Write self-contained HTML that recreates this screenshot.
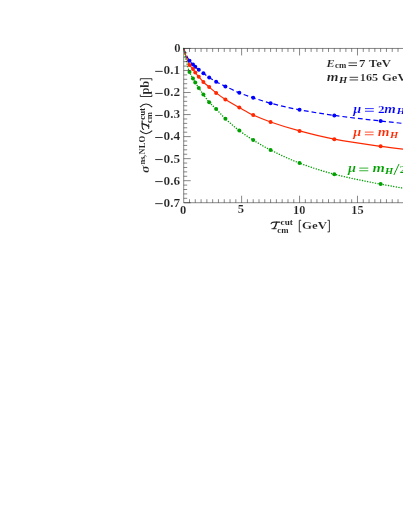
<!DOCTYPE html>
<html><head><meta charset="utf-8"><title>plot</title>
<style>
html,body{margin:0;padding:0;background:#fff;}
body{width:403px;height:521px;overflow:hidden;font-family:"Liberation Serif",serif;}
svg{display:block;position:absolute;left:0;top:0;will-change:transform;opacity:0.999;}
svg text{font-family:"Liberation Serif",serif;font-weight:bold;fill:#222;stroke:#fff;}
</style></head><body>
<svg width="403" height="521" viewBox="0 0 403 521">
<rect width="403" height="521" fill="#fff"/>
<g fill="none" stroke-width="1.2">
<path d="M183.70 48.45 C185.63 53.60 187.56 58.08 189.49 60.80 C190.65 62.43 191.81 63.43 192.97 64.60 C193.74 65.38 194.51 66.11 195.28 66.80 C196.44 67.83 197.60 68.78 198.76 69.70 C200.31 70.93 201.85 72.06 203.39 73.20 C205.33 74.63 207.26 76.11 209.19 77.40 C211.50 78.95 213.82 80.40 216.14 81.70 C219.23 83.43 222.32 84.90 225.41 86.40 C230.04 88.64 234.67 90.93 239.31 92.80 C243.94 94.67 248.58 96.25 253.21 97.80 C259.00 99.74 264.79 101.66 270.59 103.20 C280.24 105.77 289.90 107.97 299.55 109.80 C311.13 112.00 322.72 113.79 334.31 115.40 C349.75 117.55 365.20 119.27 380.64 121.00 C399.95 123.16 419.26 125.00 438.57 127.00" stroke="#0000ff" stroke-dasharray="4.8 3"/>
<path d="M183.70 48.45 C185.63 55.35 187.56 61.94 189.49 65.00 C190.65 66.84 191.81 67.47 192.97 69.00 C193.74 70.02 194.51 71.44 195.28 72.50 C196.44 74.09 197.60 75.43 198.76 76.80 C200.31 78.62 201.85 80.47 203.39 82.00 C205.33 83.91 207.26 85.44 209.19 87.10 C211.50 89.09 213.82 91.10 216.14 92.90 C219.23 95.30 222.32 97.61 225.41 99.60 C230.04 102.59 234.67 105.02 239.31 107.60 C243.94 110.18 248.58 112.97 253.21 115.10 C259.00 117.76 264.79 119.97 270.59 122.00 C280.24 125.38 289.90 128.30 299.55 130.90 C311.13 134.03 322.72 137.01 334.31 139.20 C349.75 142.11 365.20 144.17 380.64 146.30 C399.95 148.96 419.26 151.10 438.57 153.50" stroke="#ff2800"/>
<path d="M183.70 48.45 C185.63 58.26 187.56 67.25 189.49 72.00 C190.65 74.85 191.81 76.34 192.97 78.40 C193.74 79.77 194.51 81.12 195.28 82.40 C196.44 84.32 197.60 86.16 198.76 87.90 C200.31 90.22 201.85 92.37 203.39 94.50 C205.33 97.16 207.26 100.01 209.19 102.20 C211.50 104.82 213.82 106.66 216.14 109.00 C219.23 112.12 222.32 115.77 225.41 118.70 C230.04 123.09 234.67 127.08 239.31 130.60 C243.94 134.12 248.58 137.21 253.21 140.10 C259.00 143.71 264.79 147.05 270.59 150.00 C280.24 154.92 289.90 159.47 299.55 163.10 C311.13 167.46 322.72 171.21 334.31 174.20 C349.75 178.19 365.20 181.15 380.64 184.10 C399.95 187.78 419.26 190.70 438.57 194.00" stroke="#00a000" stroke-width="1.45" stroke-linecap="round" stroke-dasharray="0.01 2.64"/>
</g>
<circle cx="189.49" cy="60.80" r="2" fill="#0000ff"/><circle cx="192.97" cy="64.60" r="2" fill="#0000ff"/><circle cx="195.28" cy="66.80" r="2" fill="#0000ff"/><circle cx="198.76" cy="69.70" r="2" fill="#0000ff"/><circle cx="203.39" cy="73.20" r="2" fill="#0000ff"/><circle cx="209.19" cy="77.40" r="2" fill="#0000ff"/><circle cx="216.14" cy="81.70" r="2" fill="#0000ff"/><circle cx="225.41" cy="86.40" r="2" fill="#0000ff"/><circle cx="239.31" cy="92.80" r="2" fill="#0000ff"/><circle cx="253.21" cy="97.80" r="2" fill="#0000ff"/><circle cx="270.59" cy="103.20" r="2" fill="#0000ff"/><circle cx="299.55" cy="109.80" r="2" fill="#0000ff"/><circle cx="334.31" cy="115.40" r="2" fill="#0000ff"/><circle cx="380.64" cy="121.00" r="2" fill="#0000ff"/>
<circle cx="189.49" cy="65.00" r="2" fill="#ff2800"/><circle cx="192.97" cy="69.00" r="2" fill="#ff2800"/><circle cx="195.28" cy="72.50" r="2" fill="#ff2800"/><circle cx="198.76" cy="76.80" r="2" fill="#ff2800"/><circle cx="203.39" cy="82.00" r="2" fill="#ff2800"/><circle cx="209.19" cy="87.10" r="2" fill="#ff2800"/><circle cx="216.14" cy="92.90" r="2" fill="#ff2800"/><circle cx="225.41" cy="99.60" r="2" fill="#ff2800"/><circle cx="239.31" cy="107.60" r="2" fill="#ff2800"/><circle cx="253.21" cy="115.10" r="2" fill="#ff2800"/><circle cx="270.59" cy="122.00" r="2" fill="#ff2800"/><circle cx="299.55" cy="130.90" r="2" fill="#ff2800"/><circle cx="334.31" cy="139.20" r="2" fill="#ff2800"/><circle cx="380.64" cy="146.30" r="2" fill="#ff2800"/>
<circle cx="189.49" cy="72.00" r="2" fill="#00a000"/><circle cx="192.97" cy="78.40" r="2" fill="#00a000"/><circle cx="195.28" cy="82.40" r="2" fill="#00a000"/><circle cx="198.76" cy="87.90" r="2" fill="#00a000"/><circle cx="203.39" cy="94.50" r="2" fill="#00a000"/><circle cx="209.19" cy="102.20" r="2" fill="#00a000"/><circle cx="216.14" cy="109.00" r="2" fill="#00a000"/><circle cx="225.41" cy="118.70" r="2" fill="#00a000"/><circle cx="239.31" cy="130.60" r="2" fill="#00a000"/><circle cx="253.21" cy="140.10" r="2" fill="#00a000"/><circle cx="270.59" cy="150.00" r="2" fill="#00a000"/><circle cx="299.55" cy="163.10" r="2" fill="#00a000"/><circle cx="334.31" cy="174.20" r="2" fill="#00a000"/><circle cx="380.64" cy="184.10" r="2" fill="#00a000"/>
<g stroke="#222" stroke-width="0.55" fill="none">
<path d="M183.7 48.45 H405 M183.7 202.73 H405 M183.7 48.45 V202.73"/>
<path d="M189.49 202.73 v-3.50 M189.49 48.45 v3.50"/><path d="M195.28 202.73 v-3.50 M195.28 48.45 v3.50"/><path d="M201.08 202.73 v-3.50 M201.08 48.45 v3.50"/><path d="M206.87 202.73 v-3.50 M206.87 48.45 v3.50"/><path d="M212.66 202.73 v-3.50 M212.66 48.45 v3.50"/><path d="M218.45 202.73 v-3.50 M218.45 48.45 v3.50"/><path d="M224.25 202.73 v-3.50 M224.25 48.45 v3.50"/><path d="M230.04 202.73 v-3.50 M230.04 48.45 v3.50"/><path d="M235.83 202.73 v-3.50 M235.83 48.45 v3.50"/><path d="M241.62 202.73 v-7.00 M241.62 48.45 v7.00"/><path d="M247.42 202.73 v-3.50 M247.42 48.45 v3.50"/><path d="M253.21 202.73 v-3.50 M253.21 48.45 v3.50"/><path d="M259.00 202.73 v-3.50 M259.00 48.45 v3.50"/><path d="M264.79 202.73 v-3.50 M264.79 48.45 v3.50"/><path d="M270.59 202.73 v-3.50 M270.59 48.45 v3.50"/><path d="M276.38 202.73 v-3.50 M276.38 48.45 v3.50"/><path d="M282.17 202.73 v-3.50 M282.17 48.45 v3.50"/><path d="M287.97 202.73 v-3.50 M287.97 48.45 v3.50"/><path d="M293.76 202.73 v-3.50 M293.76 48.45 v3.50"/><path d="M299.55 202.73 v-7.00 M299.55 48.45 v7.00"/><path d="M305.34 202.73 v-3.50 M305.34 48.45 v3.50"/><path d="M311.13 202.73 v-3.50 M311.13 48.45 v3.50"/><path d="M316.93 202.73 v-3.50 M316.93 48.45 v3.50"/><path d="M322.72 202.73 v-3.50 M322.72 48.45 v3.50"/><path d="M328.51 202.73 v-3.50 M328.51 48.45 v3.50"/><path d="M334.31 202.73 v-3.50 M334.31 48.45 v3.50"/><path d="M340.10 202.73 v-3.50 M340.10 48.45 v3.50"/><path d="M345.89 202.73 v-3.50 M345.89 48.45 v3.50"/><path d="M351.68 202.73 v-3.50 M351.68 48.45 v3.50"/><path d="M357.48 202.73 v-7.00 M357.48 48.45 v7.00"/><path d="M363.27 202.73 v-3.50 M363.27 48.45 v3.50"/><path d="M369.06 202.73 v-3.50 M369.06 48.45 v3.50"/><path d="M374.85 202.73 v-3.50 M374.85 48.45 v3.50"/><path d="M380.64 202.73 v-3.50 M380.64 48.45 v3.50"/><path d="M386.44 202.73 v-3.50 M386.44 48.45 v3.50"/><path d="M392.23 202.73 v-3.50 M392.23 48.45 v3.50"/><path d="M398.02 202.73 v-3.50 M398.02 48.45 v3.50"/><path d="M403.81 202.73 v-3.50 M403.81 48.45 v3.50"/><path d="M183.70 48.45 h7.00"/><path d="M183.70 52.86 h3.50"/><path d="M183.70 57.27 h3.50"/><path d="M183.70 61.67 h3.50"/><path d="M183.70 66.08 h3.50"/><path d="M183.70 70.49 h7.00"/><path d="M183.70 74.90 h3.50"/><path d="M183.70 79.31 h3.50"/><path d="M183.70 83.71 h3.50"/><path d="M183.70 88.12 h3.50"/><path d="M183.70 92.53 h7.00"/><path d="M183.70 96.94 h3.50"/><path d="M183.70 101.35 h3.50"/><path d="M183.70 105.75 h3.50"/><path d="M183.70 110.16 h3.50"/><path d="M183.70 114.57 h7.00"/><path d="M183.70 118.98 h3.50"/><path d="M183.70 123.39 h3.50"/><path d="M183.70 127.79 h3.50"/><path d="M183.70 132.20 h3.50"/><path d="M183.70 136.61 h7.00"/><path d="M183.70 141.02 h3.50"/><path d="M183.70 145.43 h3.50"/><path d="M183.70 149.83 h3.50"/><path d="M183.70 154.24 h3.50"/><path d="M183.70 158.65 h7.00"/><path d="M183.70 163.06 h3.50"/><path d="M183.70 167.47 h3.50"/><path d="M183.70 171.87 h3.50"/><path d="M183.70 176.28 h3.50"/><path d="M183.70 180.69 h7.00"/><path d="M183.70 185.10 h3.50"/><path d="M183.70 189.51 h3.50"/><path d="M183.70 193.91 h3.50"/><path d="M183.70 198.32 h3.50"/><path d="M183.70 202.73 h7.00"/>
</g>
<text x="174.20" y="52.30" font-size="11.60" textLength="6.30" lengthAdjust="spacingAndGlyphs" stroke-width="0.151">0</text><path d="M155.2 71.39 H162.7" stroke="#222" stroke-width="0.9" fill="none"/><text x="163.60" y="74.34" font-size="11.60" textLength="16.60" lengthAdjust="spacingAndGlyphs" stroke-width="0.151">0.1</text><path d="M155.2 93.43 H162.7" stroke="#222" stroke-width="0.9" fill="none"/><text x="163.60" y="96.38" font-size="11.60" textLength="16.60" lengthAdjust="spacingAndGlyphs" stroke-width="0.151">0.2</text><path d="M155.2 115.47 H162.7" stroke="#222" stroke-width="0.9" fill="none"/><text x="163.60" y="118.42" font-size="11.60" textLength="16.60" lengthAdjust="spacingAndGlyphs" stroke-width="0.151">0.3</text><path d="M155.2 137.51 H162.7" stroke="#222" stroke-width="0.9" fill="none"/><text x="163.60" y="140.46" font-size="11.60" textLength="16.60" lengthAdjust="spacingAndGlyphs" stroke-width="0.151">0.4</text><path d="M155.2 159.55 H162.7" stroke="#222" stroke-width="0.9" fill="none"/><text x="163.60" y="162.50" font-size="11.60" textLength="16.60" lengthAdjust="spacingAndGlyphs" stroke-width="0.151">0.5</text><path d="M155.2 181.59 H162.7" stroke="#222" stroke-width="0.9" fill="none"/><text x="163.60" y="184.54" font-size="11.60" textLength="16.60" lengthAdjust="spacingAndGlyphs" stroke-width="0.151">0.6</text><path d="M155.2 203.63 H162.7" stroke="#222" stroke-width="0.9" fill="none"/><text x="163.60" y="206.58" font-size="11.60" textLength="16.60" lengthAdjust="spacingAndGlyphs" stroke-width="0.151">0.7</text><text x="179.90" y="213.60" font-size="11.60" textLength="6.30" lengthAdjust="spacingAndGlyphs" stroke-width="0.151">0</text><text x="237.80" y="213.20" font-size="11.60" textLength="6.30" lengthAdjust="spacingAndGlyphs" stroke-width="0.151">5</text><text x="293.00" y="213.60" font-size="11.60" textLength="12.30" lengthAdjust="spacingAndGlyphs" stroke-width="0.151">10</text><text x="351.30" y="213.60" font-size="11.60" textLength="12.30" lengthAdjust="spacingAndGlyphs" stroke-width="0.151">15</text>
<text x="326.60" y="66.90" font-size="11.30" textLength="8.20" lengthAdjust="spacingAndGlyphs" font-style="italic" stroke-width="0.147">E</text><text x="335.00" y="68.40" font-size="7.80" textLength="11.20" lengthAdjust="spacingAndGlyphs" stroke-width="0.031">cm</text><path d="M348.50 62.90 H357.00 M348.50 65.55 H357.00" stroke="#222" stroke-width="0.85" fill="none"/><text x="359.00" y="67.00" font-size="11.40" textLength="6.40" lengthAdjust="spacingAndGlyphs" stroke-width="0.148">7</text><text x="368.80" y="66.90" font-size="11.30" textLength="22.30" lengthAdjust="spacingAndGlyphs" stroke-width="0.147">TeV</text><text x="326.80" y="81.30" font-size="11.80" textLength="11.80" lengthAdjust="spacingAndGlyphs" font-style="italic" stroke-width="0.153">m</text><text x="339.00" y="83.10" font-size="8.00" textLength="8.20" lengthAdjust="spacingAndGlyphs" font-style="italic" stroke-width="0.032">H</text><path d="M349.60 77.30 H358.10 M349.60 79.95 H358.10" stroke="#222" stroke-width="0.85" fill="none"/><text x="359.80" y="81.30" font-size="11.40" textLength="18.30" lengthAdjust="spacingAndGlyphs" stroke-width="0.148">165</text><text x="382.00" y="81.30" font-size="11.30" textLength="24.50" lengthAdjust="spacingAndGlyphs" stroke-width="0.147">GeV</text><text x="353.20" y="112.60" font-size="12.00" textLength="8.00" lengthAdjust="spacingAndGlyphs" font-style="italic" style="fill:#0000ff" stroke-width="0.156">μ</text><path d="M365.00 108.60 H373.80 M365.00 111.25 H373.80" stroke="#0000ff" stroke-width="0.80" fill="none"/><text x="377.90" y="112.90" font-size="11.40" textLength="6.60" lengthAdjust="spacingAndGlyphs" style="fill:#0000ff" stroke-width="0.148">2</text><text x="384.30" y="112.60" font-size="12.00" textLength="11.60" lengthAdjust="spacingAndGlyphs" font-style="italic" style="fill:#0000ff" stroke-width="0.156">m</text><text x="396.80" y="114.30" font-size="8.00" textLength="8.20" lengthAdjust="spacingAndGlyphs" font-style="italic" style="fill:#0000ff" stroke-width="0.032">H</text><text x="353.20" y="136.10" font-size="12.00" textLength="8.00" lengthAdjust="spacingAndGlyphs" font-style="italic" style="fill:#ff2800" stroke-width="0.156">μ</text><path d="M364.90 132.10 H373.60 M364.90 134.75 H373.60" stroke="#ff2800" stroke-width="0.80" fill="none"/><text x="377.80" y="136.10" font-size="12.00" textLength="11.80" lengthAdjust="spacingAndGlyphs" font-style="italic" style="fill:#ff2800" stroke-width="0.156">m</text><text x="390.10" y="137.70" font-size="8.00" textLength="8.20" lengthAdjust="spacingAndGlyphs" font-style="italic" style="fill:#ff2800" stroke-width="0.032">H</text><text x="348.00" y="172.10" font-size="12.00" textLength="8.00" lengthAdjust="spacingAndGlyphs" font-style="italic" style="fill:#00a000" stroke-width="0.156">μ</text><path d="M359.30 168.10 H368.30 M359.30 170.75 H368.30" stroke="#00a000" stroke-width="0.80" fill="none"/><text x="372.60" y="172.10" font-size="12.00" textLength="12.40" lengthAdjust="spacingAndGlyphs" font-style="italic" style="fill:#00a000" stroke-width="0.156">m</text><text x="384.90" y="174.10" font-size="8.00" textLength="8.20" lengthAdjust="spacingAndGlyphs" font-style="italic" style="fill:#00a000" stroke-width="0.032">H</text><path d="M393.9 175.0 L399.0 164.0" stroke="#00a000" stroke-width="0.95" fill="none"/><text x="399.40" y="172.60" font-size="11.40" textLength="6.80" lengthAdjust="spacingAndGlyphs" style="fill:#00a000" stroke-width="0.148">2</text>
<g transform="translate(270.80,229.20)" fill="none" stroke="#222" stroke-linecap="round"><path d="M0.3 -5.5 C0.7 -6.7 1.9 -7.05 3.3 -7.05 L9 -7.05" stroke-width="1.1"/><path d="M5.9 -7 C5.3 -4.1 4.3 -1.8 3.1 -0.6" stroke-width="1.45"/><path d="M1.1 -0.5 L5.4 -0.5" stroke-width="0.9"/></g><text x="280.60" y="225.30" font-size="7.80" textLength="12.20" lengthAdjust="spacingAndGlyphs" stroke-width="0.031">cut</text><text x="277.30" y="232.50" font-size="7.80" textLength="11.20" lengthAdjust="spacingAndGlyphs" stroke-width="0.031">cm</text><path d="M301.20 220.30 H299.30 V231.90 H301.20" stroke="#222" stroke-width="0.9" fill="none"/><text x="302.00" y="229.20" font-size="11.30" textLength="25.00" lengthAdjust="spacingAndGlyphs" stroke-width="0.147">GeV</text><path d="M327.50 220.30 H329.40 V231.90 H327.50" stroke="#222" stroke-width="0.9" fill="none"/>
<g transform="translate(149.2,174) rotate(-90)"><text x="1.00" y="0.00" font-size="11.80" textLength="7.40" lengthAdjust="spacingAndGlyphs" font-style="italic" stroke-width="0.153">σ</text><text x="9.60" y="-4.50" font-size="7.80" textLength="8.00" lengthAdjust="spacingAndGlyphs" stroke-width="0.031">ns</text><text x="16.90" y="-4.50" font-size="7.80" textLength="2.20" lengthAdjust="spacingAndGlyphs" stroke-width="0.031">,</text><text x="19.50" y="-4.50" font-size="7.80" textLength="18.60" lengthAdjust="spacingAndGlyphs" stroke-width="0.031">NLO</text><path d="M43.30 -9.20 Q37.20 -3.10 43.30 3.00" stroke="#222" stroke-width="1.05" fill="none"/><g transform="translate(44.30,0.00)" fill="none" stroke="#222" stroke-linecap="round"><path d="M0.3 -5.5 C0.7 -6.7 1.9 -7.05 3.3 -7.05 L9 -7.05" stroke-width="1.1"/><path d="M5.9 -7 C5.3 -4.1 4.3 -1.8 3.1 -0.6" stroke-width="1.45"/><path d="M1.1 -0.5 L5.4 -0.5" stroke-width="0.9"/></g><text x="54.20" y="-4.60" font-size="7.80" textLength="11.90" lengthAdjust="spacingAndGlyphs" stroke-width="0.031">cut</text><text x="50.90" y="3.00" font-size="7.80" textLength="10.90" lengthAdjust="spacingAndGlyphs" stroke-width="0.031">cm</text><path d="M66.90 -9.20 Q73.00 -3.10 66.90 3.00" stroke="#222" stroke-width="1.05" fill="none"/><path d="M79.40 -8.90 H77.50 V2.70 H79.40" stroke="#222" stroke-width="0.9" fill="none"/><text x="79.40" y="0.00" font-size="11.50" textLength="13.90" lengthAdjust="spacingAndGlyphs" stroke-width="0.149">pb</text><path d="M93.40 -8.90 H95.30 V2.70 H93.40" stroke="#222" stroke-width="0.9" fill="none"/></g>
</svg>
</body></html>
